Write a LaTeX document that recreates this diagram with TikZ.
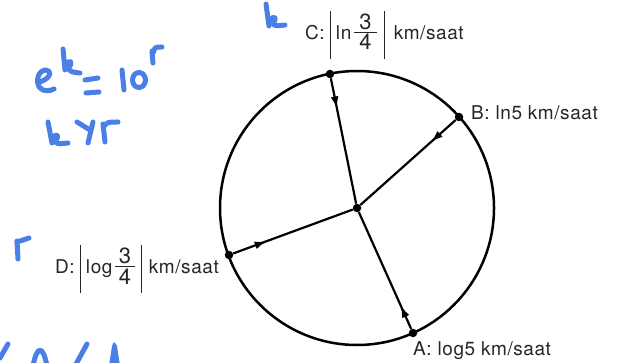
\documentclass[tikz,border=0pt]{standalone}
\usepackage{fontspec}
\setmainfont{TeX Gyre Heros}[LetterSpace=3]
\usetikzlibrary{arrows.meta,decorations.markings}
\definecolor{ink}{RGB}{74,127,230}
\newcommand{\frc}[3]{\ensuremath{\vcenter{\hbox{\fontsize{22}{24}\selectfont\tabcolsep=#3\renewcommand{\arraystretch}{1}\begin{tabular}{c}#1\\[-5pt]\hline\noalign{\vskip 1pt}#2\end{tabular}}}}}
\newcommand{\tallbar}{\ensuremath{\vcenter{\hbox{\rule{1.2pt}{48pt}}}}}
\begin{document}
\begin{tikzpicture}[x=1pt,y=-1pt,
  dot/.style={circle,fill=black,inner sep=0pt,minimum size=8.5pt},
  spoke/.style={line width=2.2pt, postaction={decorate},
    decoration={markings, mark=at position #1 with {\arrow{Latex[length=12pt,width=8pt]}}}},
  lab/.style={font=\fontsize{19}{22}\selectfont, inner sep=0pt, text=black!85},
  hand/.style={draw=ink, line width=5pt, line cap=round, line join=round}]
\useasboundingbox (0,0) rectangle (617,363);
% circle
\node[circle, draw, line width=2.5pt, minimum size=274pt, inner sep=0pt] (ring) at (357,208) {};
% points
\node[dot] (o) at (357,208) {};
\node[dot] (c) at (330,74) {};
\node[dot] (b) at (459,117) {};
\node[dot] (a) at (413,333) {};
\node[dot] (d) at (229,255) {};
% spokes
\draw[spoke=0.24] (c) -- (o);
\draw[spoke=0.26] (b) -- (o);
\draw[spoke=0.2] (a) -- (o);
\draw[spoke=0.28] (d) -- (o);
% labels
\node[lab, anchor=base west] (lb) at (471,119.3) {B: ln5 km/saat};
\node[lab, anchor=base west] (la) at (413,355) {A: log5 km/saat};
\node[lab, anchor=west] (lc) at (305,35) {C:\hspace{5pt}\tallbar\hspace{5pt}ln\hspace{3pt}\frc{3}{4}{5pt}\hspace{7pt}\tallbar\hspace{9pt}km/saat};
\node[lab, anchor=west] (ld) at (55,269) {D:\hspace{5pt}\tallbar\hspace{5pt}log\hspace{3pt}\frc{3}{4}{3.5pt}\hspace{6pt}\tallbar\hspace{7pt}km/saat};
% handwriting
\draw[hand] (266,4) -- (269,26);
\draw[hand] (269,21) .. controls (275,13) and (278,20) .. (272,23) .. controls (275,26) .. (285,25);
\draw[hand] (39,82) .. controls (48,80) and (54,72) .. (46,70) .. controls (38,70) and (35,82) .. (40,88) .. controls (44,92) and (50,91) .. (54,89);
\draw[hand] (63,49) -- (65,70);
\draw[hand] (65,66) .. controls (70,57) and (74,63) .. (68,68) .. controls (71,72) .. (80,73);
\draw[hand] (85,80) -- (98,78);
\draw[hand] (86,93) -- (99,92);
\draw[hand] (122,70) -- (124,90);
\draw[hand] (139,80) ellipse [x radius=6.5, y radius=7.5];
\draw[hand] (152,51) -- (153,63);
\draw[hand] (153,53) .. controls (155,47) .. (162,47);
\draw[hand] (48,122) -- (52,143);
\draw[hand] (52,139) .. controls (57,131) and (60,137) .. (55,141) .. controls (57,144) .. (68,143);
\draw[hand] (77,122) -- (90,130);
\draw[hand] (93,122) -- (88,143);
\draw[hand] (103,124) -- (105,142);
\draw[hand] (104,126) .. controls (108,122) .. (118,122);
\draw[hand] (17,241) -- (18,259);
\draw[hand] (17,242) -- (29,238);
\draw[hand] (8,344) -- (0,358);
\draw[hand] (33,366) .. controls (37,345) and (43,345) .. (47,366);
\draw[hand] (87,344) -- (75,366);
\fill[ink] (109,366) -- (112,346) .. controls (114,341) .. (117,346) -- (120,366) -- cycle;
\end{tikzpicture}
\end{document}
